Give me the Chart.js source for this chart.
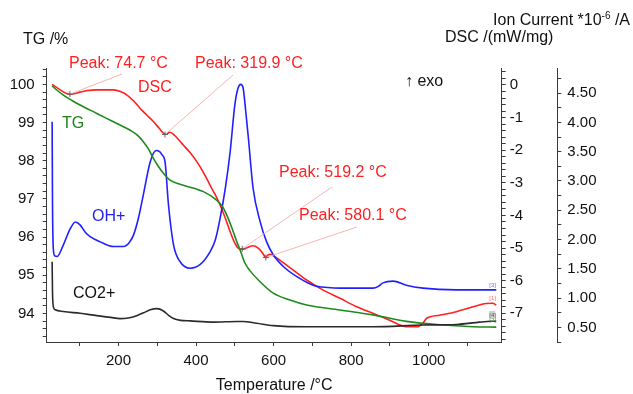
<!DOCTYPE html>
<html>
<head>
<meta charset="utf-8">
<script src="https://cdn.jsdelivr.net/npm/chart.js@4.4.0/dist/chart.umd.min.js"></script>
<style>
    body { margin: 0; background: #fff; }
    #wrap { width: 633px; height: 394px; }
</style>
</head>
<body>
<div id="wrap"><canvas id="chart-tga" width="633" height="394"></canvas></div>
<script>
// TG (mass %)
const tgTemp = [29, 40, 58, 80, 101, 144, 187, 230, 250, 264, 278, 290, 303, 316, 333, 367, 419, 453, 468, 479, 492, 505, 515, 526, 539, 565, 599, 642, 685, 771, 856, 942, 1028, 1114, 1174];
const tgValue = [99.96, 99.86, 99.72, 99.58, 99.46, 99.24, 99.02, 98.80, 98.66, 98.50, 98.30, 98.06, 97.85, 97.67, 97.49, 97.36, 97.19, 96.97, 96.80, 96.58, 96.25, 95.88, 95.62, 95.32, 95.12, 94.83, 94.53, 94.35, 94.22, 94.09, 93.96, 93.79, 93.70, 93.65, 93.64];

// DSC (mW/mg), red curve
const dscTemp = [29, 38, 50, 62, 75, 88, 101, 120, 144, 187, 205, 222, 240, 256, 273, 290, 305, 318, 322, 333, 345, 367, 385, 402, 420, 436, 450, 462, 476, 488, 500, 509, 519, 530, 547, 560, 569, 575, 580, 585, 590, 600, 616, 650, 685, 728, 771, 814, 856, 899, 942, 972, 985, 994, 1028, 1071, 1114, 1148, 1165, 1174];
const dscValue = [0.02, -0.06, -0.15, -0.24, -0.29, -0.26, -0.22, -0.17, -0.15, -0.15, -0.20, -0.31, -0.50, -0.72, -0.92, -1.12, -1.33, -1.50, -1.51, -1.45, -1.55, -1.84, -2.08, -2.35, -2.70, -3.07, -3.38, -3.68, -4.10, -4.50, -4.85, -5.01, -5.04, -5.00, -4.93, -5.00, -5.11, -5.22, -5.29, -5.22, -5.19, -5.24, -5.37, -5.67, -5.98, -6.29, -6.54, -6.80, -7.00, -7.21, -7.41, -7.41, -7.30, -7.16, -7.06, -6.95, -6.80, -6.70, -6.69, -6.75];

// ion current OH+ (1e-6 A), blue curve
const ohTemp = [29, 30, 32, 36, 42, 58, 76, 89, 101, 115, 127, 153, 187, 213, 228, 239, 252, 264, 282, 297, 306, 312, 320, 329, 342, 359, 385, 410, 436, 450, 462, 476, 488, 500, 508, 515, 521, 528, 535, 547, 565, 582, 599, 625, 659, 702, 740, 771, 856, 870, 882, 908, 942, 985, 1071, 1174];
const ohValue = [4.01, 2.60, 1.85, 1.72, 1.71, 1.91, 2.19, 2.30, 2.25, 2.12, 2.05, 1.96, 1.88, 1.88, 1.95, 2.08, 2.38, 2.76, 3.33, 3.52, 3.50, 3.45, 3.33, 2.59, 1.91, 1.62, 1.51, 1.57, 1.79, 2.00, 2.36, 2.90, 3.50, 4.30, 4.58, 4.65, 4.60, 4.20, 3.73, 2.88, 2.31, 1.96, 1.74, 1.54, 1.37, 1.22, 1.18, 1.17, 1.17, 1.20, 1.26, 1.29, 1.22, 1.17, 1.14, 1.14];

// ion current CO2+ (1e-6 A), black curve
const co2Temp = [29, 30, 32, 37, 58, 101, 144, 180, 204, 225, 247, 265, 282, 299, 316, 330, 342, 360, 385, 445, 505, 520, 556, 599, 685, 856, 985, 1071, 1131, 1174];
const co2Value = [1.62, 1.10, 0.86, 0.80, 0.77, 0.74, 0.70, 0.67, 0.65, 0.66, 0.70, 0.75, 0.80, 0.82, 0.78, 0.70, 0.65, 0.62, 0.61, 0.59, 0.60, 0.60, 0.57, 0.53, 0.51, 0.51, 0.54, 0.55, 0.59, 0.61];

// DSC peak annotations
const peakTemps = [74.7, 319.9, 519.2, 580.1];
const peakDsc = [-0.28, -1.52, -5.02, -5.29];

// tick positions
const tempTicks = [100, 200, 300, 400, 500, 600, 700, 800, 900, 1000, 1100];
const tempLabels = [200, 400, 600, 800, 1000];
const tgTicks = [];
for (let i = 934; i <= 1004; i += 2) tgTicks.push(i / 10);
const dscTicks = [];
for (let i = -78; i <= 4; i += 2) dscTicks.push(i / 10);
const ionTicks = [];
for (let i = 1; i <= 19; i++) ionTicks.push(i / 4);

const toPoints = (xs, ys) => xs.map((t, i) => ({ x: t, y: ys[i] }));
const isWhole = (v, step) => Math.abs(v / step - Math.round(v / step)) < 1e-6;

const FONT = '"Liberation Sans", Arial, sans-serif';
const axisColor = '#3a3a3a';

const fixedWidth = w => scale => { scale.width = w; };

const textLayer = {
    id: 'textLayer',
    afterDatasetsDraw(chart) {
        const ctx = chart.ctx;
        const xs = chart.scales.x;
        const ds = chart.scales.dsc;
        const labelPos = [
            { x: 69, y: 64, lx: 122, ly: 74 },
            { x: 195, y: 64, lx: 233, ly: 75 },
            { x: 279, y: 173, lx: 332, ly: 187 },
            { x: 299, y: 216, lx: 357, ly: 227 },
        ];
        ctx.save();
        ctx.font = '16px ' + FONT;
        ctx.textBaseline = 'middle';
        ctx.textAlign = 'left';

        peakTemps.forEach((t, i) => {
            const px = xs.getPixelForValue(t);
            const py = ds.getPixelForValue(peakDsc[i]);
            const p = labelPos[i];
            ctx.strokeStyle = '#f8b4b4';
            ctx.lineWidth = 1;
            ctx.beginPath();
            ctx.moveTo(p.lx, p.ly);
            ctx.lineTo(px, py);
            ctx.stroke();
            ctx.strokeStyle = '#666';
            ctx.beginPath();
            ctx.moveTo(px - 3, py); ctx.lineTo(px + 3, py);
            ctx.moveTo(px, py - 3); ctx.lineTo(px, py + 3);
            ctx.stroke();
            ctx.fillStyle = '#ff1f1f';
            ctx.fillText('Peak: ' + t.toFixed(1) + ' °C', p.x, p.y);
        });

        // curve names
        ctx.fillStyle = '#ff1f1f';
        ctx.fillText('DSC', 138, 88);
        ctx.fillStyle = '#1d7f1d';
        ctx.fillText('TG', 62, 124);
        ctx.fillStyle = '#2323ee';
        ctx.fillText('OH+', 92, 217);
        ctx.fillStyle = '#111';
        ctx.fillText('CO2+', 73, 294);
        ctx.fillText('↑ exo', 405, 82);

        // axis titles
        ctx.fillStyle = '#111';
        ctx.fillText('TG /%', 23, 40);
        ctx.fillText('DSC /(mW/mg)', 445, 38);
        ctx.textAlign = 'center';
        ctx.fillText('Temperature /°C', (chart.chartArea.left + chart.chartArea.right) / 2, 386);

        // "Ion Current *10^-6 /A", right aligned at 630
        ctx.textAlign = 'left';
        const a = 'Ion Current *10', b = '-6', c = ' /A';
        const wa = ctx.measureText(a).width, wc = ctx.measureText(c).width;
        ctx.font = '10px ' + FONT;
        const wb = ctx.measureText(b).width;
        let x0 = 630 - wa - wb - wc;
        ctx.font = '16px ' + FONT;
        ctx.fillText(a, x0, 21);
        ctx.font = '10px ' + FONT;
        ctx.fillText(b, x0 + wa, 16);
        ctx.font = '16px ' + FONT;
        ctx.fillText(c, x0 + wa + wb, 21);

        // curve end tags
        const ion = chart.scales.ion;
        const ex = xs.getPixelForValue(1174) - 7;
        ctx.font = '6px ' + FONT;
        ctx.fillStyle = '#6a6aff';
        ctx.fillText('[3]', ex, ion.getPixelForValue(ohValue[ohValue.length - 1]) - 5);
        ctx.fillStyle = '#ff6a6a';
        ctx.fillText('[1]', ex, ds.getPixelForValue(dscValue[dscValue.length - 1]) - 7);
        const gy = ion.getPixelForValue(co2Value[co2Value.length - 1]) - 6;
        ctx.fillStyle = '#cfcfcf';
        ctx.fillRect(ex, gy - 4, 6, 7);
        ctx.fillStyle = '#555';
        ctx.fillText('[4]', ex, gy);
        ctx.fillStyle = '#3a9a3a';
        ctx.fillText('[2]', ex, gy + 5);
        ctx.restore();
    }
};

const lineSet = (label, xs, ys, color, axis) => ({
    label: label,
    data: toPoints(xs, ys),
    borderColor: color,
    borderWidth: 1.6,
    pointRadius: 0,
    cubicInterpolationMode: 'monotone',
    yAxisID: axis,
});

const chartTga = new Chart(document.getElementById('chart-tga'), {
    type: 'line',
    data: {
        datasets: [
            lineSet('CO2+', co2Temp, co2Value, '#2b2b2b', 'ion'),
            lineSet('TG', tgTemp, tgValue, '#1e8a1e', 'tg'),
            lineSet('OH+', ohTemp, ohValue, '#2020ff', 'ion'),
            lineSet('DSC', dscTemp, dscValue, '#ff2020', 'dsc'),
        ]
    },
    options: {
        responsive: false,
        animation: false,
        layout: { padding: { top: 68 } },
        plugins: {
            legend: { display: false },
            tooltip: { enabled: false },
        },
        scales: {
            x: {
                type: 'linear',
                position: 'bottom',
                min: 15,
                max: 1188,
                afterFit: scale => { scale.height = 52; },
                afterBuildTicks: scale => { scale.ticks = tempTicks.map(v => ({ value: v })); },
                grid: { drawOnChartArea: false, tickLength: 4, tickColor: axisColor },
                border: { color: axisColor, width: 1 },
                ticks: {
                    autoSkip: false,
                    maxRotation: 0,
                    padding: 6,
                    color: '#111',
                    font: { family: FONT, size: 15 },
                    callback: v => tempLabels.includes(v) ? String(v) : '',
                },
            },
            tg: {
                type: 'linear',
                position: 'left',
                min: 93.25,
                max: 100.43,
                afterFit: fixedWidth(46.7),
                afterBuildTicks: scale => { scale.ticks = tgTicks.map(v => ({ value: v })); },
                grid: { drawOnChartArea: false, tickLength: 4, tickColor: axisColor },
                border: { color: axisColor, width: 1 },
                ticks: {
                    autoSkip: false,
                    padding: 8,
                    color: '#111',
                    font: { family: FONT, size: 15 },
                    callback: v => isWhole(v, 1) && v >= 94 ? String(Math.round(v)) : '',
                },
            },
            dsc: {
                type: 'linear',
                position: 'right',
                weight: 0,
                min: -7.88,
                max: 0.52,
                afterFit: fixedWidth(55.6),
                afterBuildTicks: scale => { scale.ticks = dscTicks.map(v => ({ value: v })); },
                grid: { drawOnChartArea: false, tickLength: 4, tickColor: axisColor },
                border: { color: axisColor, width: 1 },
                ticks: {
                    autoSkip: false,
                    padding: 4,
                    color: '#111',
                    font: { family: FONT, size: 15 },
                    callback: v => isWhole(v, 1) && v >= -7 && v <= 0 ? String(Math.round(v)) : '',
                },
            },
            ion: {
                type: 'linear',
                position: 'right',
                weight: 1,
                min: 0.25,
                max: 4.93,
                afterFit: fixedWidth(75.7),
                afterBuildTicks: scale => { scale.ticks = ionTicks.map(v => ({ value: v })); },
                grid: { drawOnChartArea: false, tickLength: 4, tickColor: axisColor },
                border: { color: axisColor, width: 1 },
                ticks: {
                    autoSkip: false,
                    padding: 6,
                    color: '#111',
                    font: { family: FONT, size: 15 },
                    callback: v => isWhole(v, 0.5) && v >= 0.5 && v <= 4.5 ? v.toFixed(2) : '',
                },
            },
        },
    },
    plugins: [textLayer],
});
</script>
</body>
</html>
